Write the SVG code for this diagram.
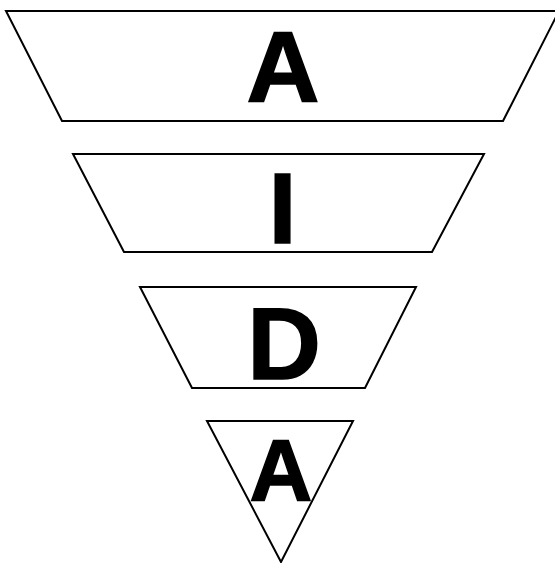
<svg xmlns="http://www.w3.org/2000/svg" width="555" height="563" viewBox="0 0 555 563">
<style>
.s{fill:#fff;stroke:#000;stroke-width:2;stroke-linejoin:miter}
.t{font-family:"Liberation Sans",Arial,sans-serif;font-weight:bold;fill:#000;stroke:#000;stroke-width:1.5;text-anchor:middle}
</style>
<rect width="555" height="563" fill="#fff"/>
<g id="attention">
<polygon class="s" points="6,11 559,11 503,121 62,121"/>
<text class="t" x="283" y="102" font-size="101">A</text>
</g>
<g id="interest">
<polygon class="s" points="73,154 484,154 432,252 124,252"/>
<text class="t" x="282.5" y="243" font-size="101">I</text>
</g>
<g id="desire">
<polygon class="s" points="140,287 416,287 365,388 192,388"/>
<text class="t" x="284" y="379" font-size="102">D</text>
</g>
<g id="action">
<polygon class="s" points="207,421 353,421 281,562"/>
<text class="t" x="281" y="500" font-size="87">A</text>
</g>
</svg>
